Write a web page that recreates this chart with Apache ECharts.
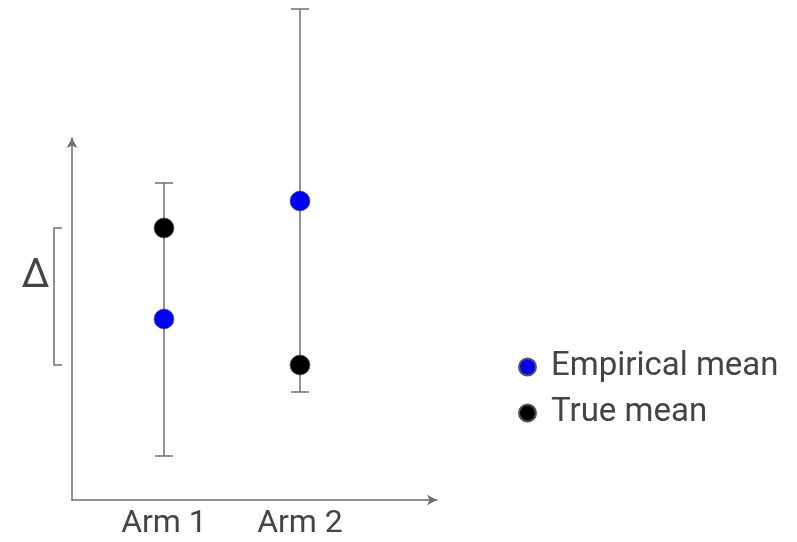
<!DOCTYPE html>
<html>
<head>
<meta charset="utf-8">
<script src="https://cdn.jsdelivr.net/npm/echarts@6/dist/echarts.min.js"></script>
<style>
html,body{margin:0;padding:0;background:#fff;}
#c{width:797px;height:542px;}
</style>
</head>
<body>
<div id="c"></div>
<script>
var arms = ['Arm 1', 'Arm 2'];
var empiricalMean = [36.2, 59.8];
var trueMean = [54.4, 27.0];
var upperBound = [63.4, 98.2];
var lowerBound = [8.8, 21.6];
var deltaLabel = '\u0394';

var errorData = arms.map(function (a, i) { return [i, lowerBound[i], upperBound[i]]; });
var bracketData = [[0, trueMean[0], trueMean[1]]];

var textColor = '#444';
var lineColor = '#6e6e6e';

function renderError(params, api) {
  var x = api.value(0);
  var lo = api.coord([x, api.value(1)]);
  var hi = api.coord([x, api.value(2)]);
  var hw = 9;
  var st = { stroke: lineColor, lineWidth: 1.5 };
  return {
    type: 'group',
    children: [
      { type: 'line', shape: { x1: hi[0], y1: hi[1], x2: lo[0], y2: lo[1] }, style: st },
      { type: 'line', shape: { x1: hi[0] - hw, y1: hi[1], x2: hi[0] + hw, y2: hi[1] }, style: st },
      { type: 'line', shape: { x1: lo[0] - hw, y1: lo[1], x2: lo[0] + hw, y2: lo[1] }, style: st }
    ]
  };
}

function renderBracket(params, api) {
  var a = api.coord([0, api.value(1)]);
  var b = api.coord([0, api.value(2)]);
  var gx = params.coordSys.x;
  var bx = gx - 42;
  var tx = gx - 34;
  var top = Math.min(a[1], b[1]);
  var bot = Math.max(a[1], b[1]);
  var st = { stroke: lineColor, lineWidth: 1.5, fill: null };
  return {
    type: 'group',
    children: [
      { type: 'polyline', shape: { points: [[tx, top], [bx, top], [bx, bot], [tx, bot]] }, style: st },
      { type: 'text', x: gx - 60.5, y: (top + bot) / 2 - 20, style: { text: deltaLabel, fill: textColor, font: '40px Roboto', align: 'center', verticalAlign: 'middle' } }
    ]
  };
}

var chart = echarts.init(document.getElementById('c'), null, { renderer: 'canvas' });
chart.setOption({
  animation: false,
  textStyle: { fontFamily: 'Roboto' },
  grid: [
    { left: 96, width: 272, top: 0, bottom: 42 },
    { left: 72, width: 365, top: 138, bottom: 42 }
  ],
  xAxis: [
    {
      gridIndex: 0, type: 'category', data: arms,
      axisLine: { show: false }, axisTick: { show: false },
      axisLabel: { fontSize: 32, color: textColor, margin: 8, fontFamily: 'Roboto' }
    },
    {
      gridIndex: 1, type: 'value', min: 0, max: 1,
      axisLine: { show: true, lineStyle: { color: lineColor, width: 1.5 }, symbol: ['none', 'arrow'], symbolSize: [8, 10] },
      axisTick: { show: false }, axisLabel: { show: false }, splitLine: { show: false }
    }
  ],
  yAxis: [
    {
      gridIndex: 0, type: 'value', min: 0, max: 100, show: false
    },
    {
      gridIndex: 1, type: 'value', min: 0, max: 1,
      axisLine: { show: true, lineStyle: { color: lineColor, width: 1.5 }, symbol: ['none', 'arrow'], symbolSize: [8, 10] },
      axisTick: { show: false }, axisLabel: { show: false }, splitLine: { show: false }
    }
  ],
  legend: {
    data: ['Empirical mean', 'True mean'],
    orient: 'vertical',
    left: 513, top: 344,
    icon: 'circle',
    itemWidth: 17, itemHeight: 17,
    itemGap: 10,
    textStyle: { fontSize: 33, color: textColor, fontFamily: 'Roboto', lineHeight: 36, padding: [0, 0, 0, 10] }
  },
  series: [
    {
      type: 'custom', name: 'error', xAxisIndex: 0, yAxisIndex: 0,
      renderItem: renderError, data: errorData, z: 1, silent: true
    },
    {
      type: 'custom', name: 'bracket', xAxisIndex: 0, yAxisIndex: 0,
      renderItem: renderBracket, data: bracketData, z: 1, silent: true, clip: false
    },
    {
      type: 'scatter', name: 'Empirical mean', xAxisIndex: 0, yAxisIndex: 0,
      data: empiricalMean, symbolSize: 20, z: 3,
      itemStyle: { color: '#0000ff', opacity: 1, borderColor: '#555', borderWidth: 0.6 }
    },
    {
      type: 'scatter', name: 'True mean', xAxisIndex: 0, yAxisIndex: 0,
      data: trueMean, symbolSize: 20, z: 3,
      itemStyle: { color: '#000000', opacity: 1, borderColor: '#555', borderWidth: 0.6 }
    }
  ]
});
</script>
</body>
</html>
